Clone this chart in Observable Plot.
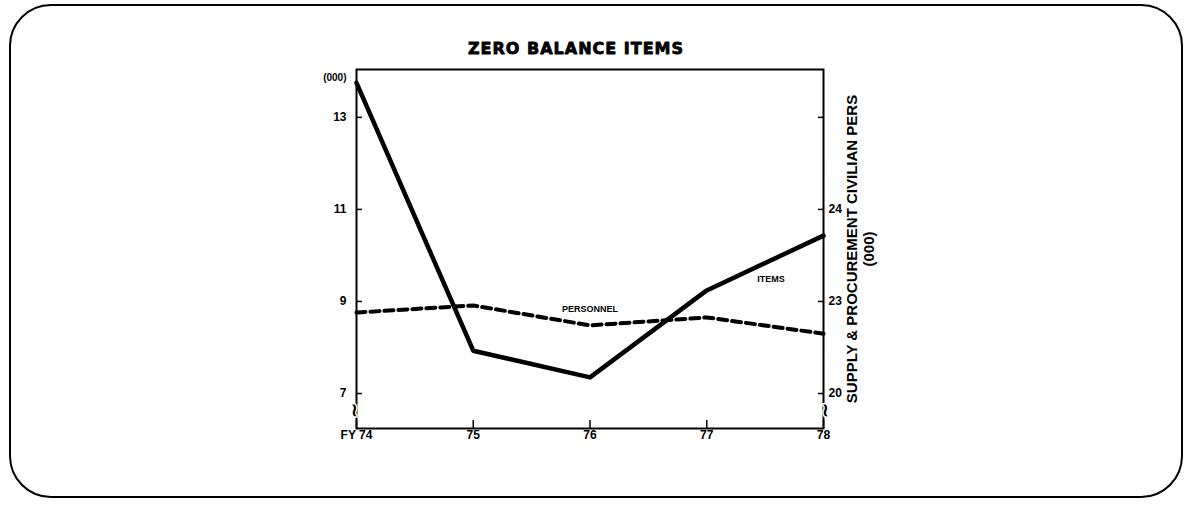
<!DOCTYPE html>
<html>
<head>
<meta charset="utf-8">
<script src="https://cdn.jsdelivr.net/npm/d3@7"></script>
<script src="https://cdn.jsdelivr.net/npm/@observablehq/plot@0.6"></script>
<style>
  html, body { margin: 0; padding: 0; background: #fff; }
  #wrap { position: relative; width: 1193px; height: 506px; }
  #border { position: absolute; left: 9px; top: 4px; width: 1170px; height: 490px;
            border: 2.5px solid #000; border-radius: 42px; pointer-events: none; }
  #chart { position: absolute; left: 0; top: 0; }
  .title-mark text { letter-spacing: 1px; }
</style>
</head>
<body>
<div id="wrap"><div id="border"></div><div id="chart"></div></div>
<script>
// ---- data ----
const years = [74, 75, 76, 77, 78];
const itemsThousands = [13.75, 7.93, 7.35, 9.24, 10.43];          // left axis (000)
const personnelThousands = [22.64, 22.87, 22.22, 22.48, 21.95];   // right axis (000), broken scale
const leftTicks = [7, 9, 11, 13];
const rightTickValues = [20, 23, 24, 25];
const rightTickLabels = ["20", "23", "24", ""];
const xTickLabels = ["FY 74", "75", "76", "77", "78"];
const titleText = "ZERO BALANCE ITEMS";
const rightAxisTitle = "SUPPLY & PROCUREMENT CIVILIAN PERS\n(000)";
const seriesLabels = [
  {name: "PERSONNEL", year: 76.0, value: 8.83},
  {name: "ITEMS", year: 77.55, value: 9.48}
];

// right (broken) axis expressed on the left scale
const rightToLeft = d3.scaleLinear().domain([20, 23, 24, 25]).range([7, 9, 11, 13]);

const items = years.map((y, i) => ({year: y, v: itemsThousands[i]}));
const personnel = years.map((y, i) => ({year: y, v: rightToLeft(personnelThousands[i])}));
const rightTicks = rightTickValues.map((r, i) => ({pos: rightToLeft(r), label: rightTickLabels[i]}));

const font = "'Liberation Sans', Arial, Helvetica, sans-serif";

const chart = Plot.plot({
  width: 1193,
  height: 506,
  marginLeft: 356,
  marginRight: 370,
  marginTop: 69,
  marginBottom: 78,
  style: {fontFamily: font, fontWeight: "bold", color: "#000", background: "transparent"},
  x: {domain: [74, 78], label: null},
  y: {domain: [6.24, 14.04], label: null},
  marks: [
    Plot.frame({stroke: "#000", strokeWidth: 2}),
    Plot.axisX(years, {tickSize: -8, tickPadding: 10, fontSize: 12, fontWeight: "bold", label: null,
      tickFormat: d => xTickLabels[years.indexOf(d)], strokeWidth: 1.5}),
    Plot.axisY(leftTicks, {anchor: "left", tickSize: -6, tickPadding: 16, fontSize: 12, fontWeight: "bold",
      strokeWidth: 1.5, label: null}),
    Plot.axisY(rightTicks.map(d => d.pos), {anchor: "right", tickSize: -6, tickPadding: 11, fontSize: 12,
      fontWeight: "bold", strokeWidth: 1.5, label: null,
      tickFormat: d => rightTicks.find(t => t.pos === d).label}),
    Plot.text([titleText], {frameAnchor: "top", dx: -14, dy: -21, fontSize: 16, fontWeight: "bold",
      fontFamily: "'DejaVu Sans', sans-serif", lineAnchor: "middle", className: "title-mark",
      fill: "#000", stroke: "#000", strokeWidth: 0.8}),
    Plot.text(["(000)"], {frameAnchor: "top-left", dx: -10, dy: 4, textAnchor: "end", fontSize: 10, fontWeight: "bold"}),
    Plot.text([rightAxisTitle], {frameAnchor: "right", dx: 22, rotate: -90, fontSize: 15,
      fontWeight: "bold", lineHeight: 1.12, lineAnchor: "top", textAnchor: "middle"}),
    Plot.text([74], {x: d => d, y: () => 6.63, text: () => "≀", fontSize: 18, dx: -2,
      stroke: "white", strokeWidth: 3, fill: "#000"}),
    Plot.text([78], {x: d => d, y: () => 6.63, text: () => "≀", fontSize: 18, dx: 2,
      stroke: "white", strokeWidth: 3, fill: "#000"}),
    Plot.line(personnel, {x: "year", y: "v", stroke: "#000", strokeWidth: 4, strokeDasharray: "9,5",
      curve: "linear", strokeLinejoin: "round"}),
    Plot.line(items, {x: "year", y: "v", stroke: "#000", strokeWidth: 4.5}),
    Plot.text(seriesLabels, {x: "year", y: "value", text: "name", fontSize: 9, fontWeight: "bold"})
  ]
});
document.getElementById("chart").appendChild(chart);
</script>
</body>
</html>
